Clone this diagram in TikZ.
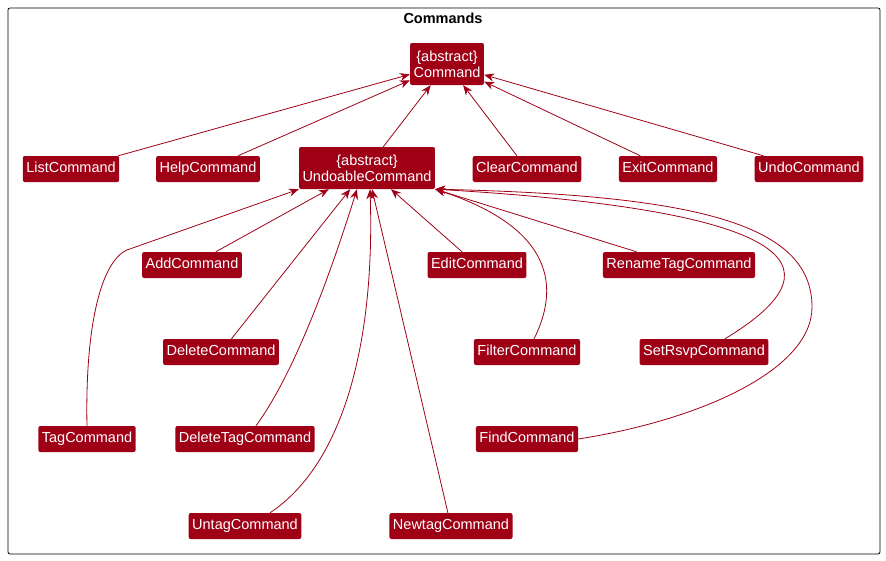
\documentclass[tikz,border=0pt]{standalone}
\usepackage{fontspec}
\setmainfont{Liberation Sans}
\usetikzlibrary{arrows.meta}
\definecolor{cmdred}{RGB}{160,0,22}
\tikzset{
  cls/.style={fill=cmdred, text=white, rounded corners=2pt,
    font=\fontsize{14.5}{16}\selectfont, inner xsep=3.5pt, inner ysep=0pt,
    text height=10.5pt, text depth=3pt, minimum height=26pt},
  abs/.style={cls, align=center, text height=, text depth=, minimum height=42pt},
  ext/.style={draw=cmdred, line width=0.8pt, -{Stealth[length=10pt,width=8pt]}}
}
\begin{document}
\begin{tikzpicture}[x=1pt,y=-1pt]
      \useasboundingbox (0,0) rectangle (886,560);
      \draw[line width=0.8pt, rounded corners=2pt] (8,8) rectangle (880,554);
      \node[font=\bfseries\fontsize{14.5}{16}\selectfont] (title) at (443,18) {Commands};
      \draw
        (447,64) node[abs] (command) {\{abstract\}\\Command}
        (367,168) node[abs] (undoable) {\{abstract\}\\UndoableCommand}
        (71,169) node[cls] (list) {ListCommand}
        (208,169) node[cls] (help) {HelpCommand}
        (527,169) node[cls] (clear) {ClearCommand}
        (668,169) node[cls] (exit) {ExitCommand}
        (809,169) node[cls] (undocmd) {UndoCommand}
        (192,265) node[cls] (add) {AddCommand}
        (477,265) node[cls] (edit) {EditCommand}
        (679,265) node[cls] (renametag) {RenameTagCommand}
        (221,352) node[cls] (delete) {DeleteCommand}
        (527,352) node[cls] (filter) {FilterCommand}
        (704,352) node[cls] (setrsvp) {SetRsvpCommand}
        (87,439) node[cls] (tag) {TagCommand}
        (245,439) node[cls] (deltag) {DeleteTagCommand}
        (527,439) node[cls] (find) {FindCommand}
        (245,526) node[cls] (untag) {UntagCommand}
        (451,526) node[cls] (newtag) {NewtagCommand};
      \begin{scope}[ext]
        \draw (list) to (command);
        \draw (help) to (command);
        \draw (undoable) to (command);
        \draw (clear) to (command);
        \draw (exit) to (command);
        \draw (undocmd) to (command);
        \draw (add) to (undoable);
        \draw (delete) to (undoable);
        \draw (newtag) to (undoable);
        \draw (edit) to (undoable);
        \draw (renametag) to (undoable);
        \draw (tag.north) .. controls (85,330) and (100,262) .. (127,250) -- (undoable.south west);
        \draw ([xshift=11pt]deltag.north) .. controls (296,371) and (332,269) .. ([xshift=-10pt]undoable.south);
        \draw ([xshift=25pt]untag.north) .. controls (345,463) and (375,339) .. ([xshift=3pt]undoable.south);
        \draw ([xshift=7pt]filter.north) .. controls (559,289) and (556,229) .. (undoable.south east);
        \draw ([xshift=21pt]setrsvp.north) .. controls (815,284) and (857,214) .. (undoable.south east);
        \draw (find.east) .. controls (700,420) and (812,370) .. (812,307)
          .. controls (812,225) and (700,195) .. (undoable.south east);
      \end{scope}
    \end{tikzpicture}
\end{document}
